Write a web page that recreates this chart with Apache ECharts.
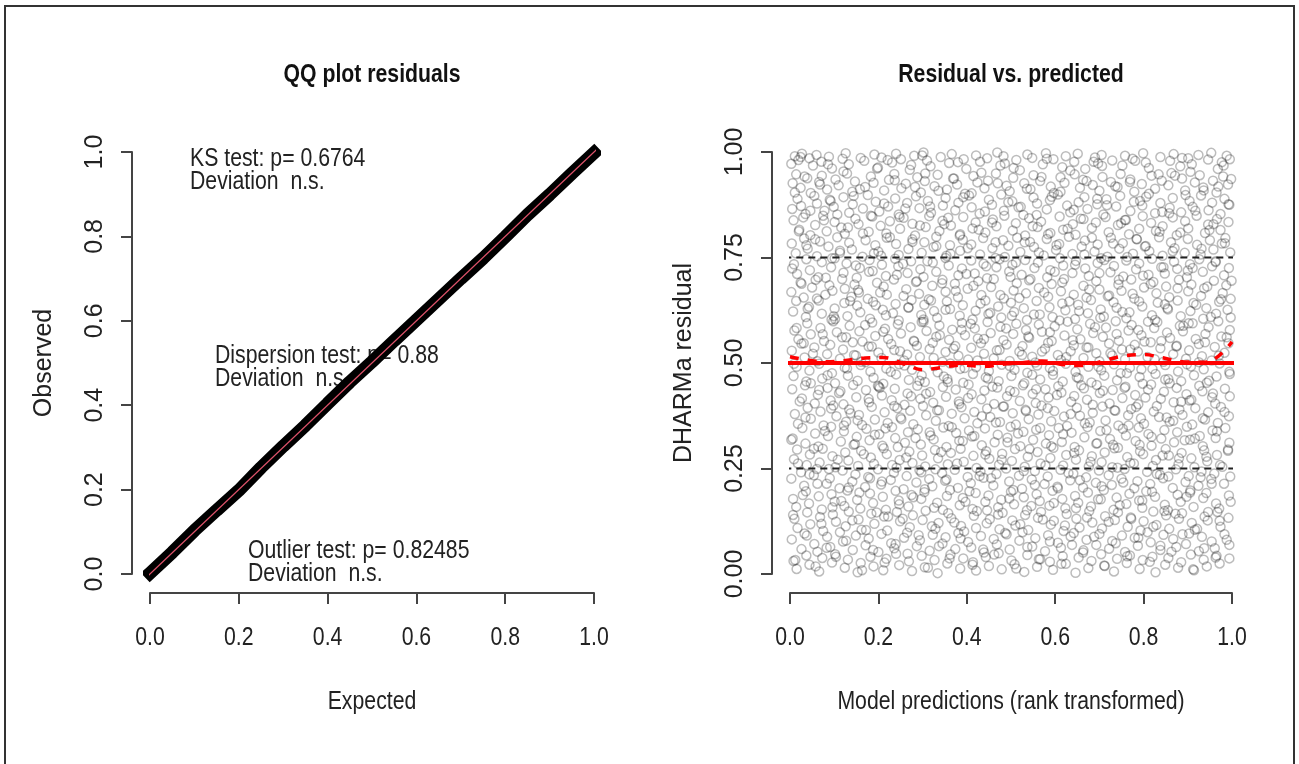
<!DOCTYPE html>
<html>
<head>
<meta charset="utf-8">
<title>DHARMa residual diagnostics</title>
<script src="https://cdn.jsdelivr.net/npm/echarts@6/dist/echarts.min.js"></script>
<style>
  html, body { margin: 0; padding: 0; background: #fff; }
  #chart { width: 1299px; height: 764px; }
</style>
</head>
<body>
<div id="chart"></div>
<script>
// ---- QQ plot: observed vs expected quantiles of the scaled residuals ----
const qqExpected = [0.00, 0.05, 0.10, 0.15, 0.20, 0.25, 0.30, 0.35, 0.40, 0.45, 0.50,
                    0.55, 0.60, 0.65, 0.70, 0.75, 0.80, 0.85, 0.90, 0.95, 1.00];
const qqObserved = [0.002, 0.051, 0.103, 0.151, 0.198, 0.252, 0.303, 0.352, 0.404, 0.455, 0.503,
                    0.553, 0.602, 0.651, 0.700, 0.748, 0.799, 0.851, 0.899, 0.949, 0.998];
// plotting range of both panels (axis extent plus R's 4% padding)
const plotRange = [-0.04, 1.04];

// ---- axis ticks and titles ----
const xTicks = [0, 0.2, 0.4, 0.6, 0.8, 1.0];
const panelTitles = ['QQ plot residuals', 'Residual vs. predicted'];
const xTitles = ['Expected', 'Model predictions (rank transformed)'];
const yTitles = ['Observed', 'DHARMa residual'];

// ---- test annotations ----
const ksText = ['KS test: p= 0.6764', 'Deviation  n.s.'];
const dispText = ['Dispersion test: p= 0.88', 'Deviation  n.s.'];
const outlierText = ['Outlier test: p= 0.82485', 'Deviation  n.s.'];

// ---- residual vs. predicted: rank-transformed prediction (x) and residual (y), in thousandths ----
const residPairs = [
  // 0.95 - 1.00
  3,972, 11,990, 19,981, 27,996, 44,985, 52,968, 60,993, 71,977, 88,989, 95,961, 119,984, 126,997, 133,971, 160,986, 168,979, 191,994, 199,963, 207,987, 231,975, 240,996, 251,983, 274,969, 281,991, 302,999, 310,980, 318,966, 341,988, 360,974, 366,995, 393,983, 399,960, 421,992, 430,977, 446,985, 469,999, 476,968, 483,990, 512,981, 520,957, 537,994, 548,986, 572,971, 579,997, 596,983, 616,964, 624,990, 643,977, 651,996, 668,960, 690,987, 697,973, 705,993, 729,980, 752,968, 758,991, 775,984, 799,997, 805,975, 812,962, 838,988, 860,979, 868,995, 883,966, 901,985, 909,971, 924,993, 946,982, 953,998, 968,960, 977,976, 988,991, 995,983,
  // 0.90 - 0.95
  6,926, 14,947, 24,915, 39,938, 47,903, 66,929, 72,944, 84,911, 103,935, 110,921, 129,949, 141,906, 147,930, 170,917, 183,942, 189,927, 213,909, 224,934, 236,948, 252,914, 262,925, 288,940, 296,904, 305,931, 327,919, 334,946, 355,911, 371,937, 378,923, 396,901, 415,943, 424,928, 440,914, 448,932, 466,949, 490,920, 497,907, 505,939, 530,926, 544,912, 551,945, 566,931, 590,918, 597,903, 612,940, 621,927, 644,947, 656,915, 663,934, 685,922, 700,908, 707,941, 726,929, 741,917, 748,948, 770,935, 779,906, 796,924, 818,944, 826,913, 841,932, 856,921, 863,950, 887,937, 894,909, 916,928, 927,945, 935,916, 957,932, 965,904, 980,942, 991,923, 998,936,
  // 0.85 - 0.90
  5,865, 17,889, 25,872, 35,853, 55,896, 61,878, 78,861, 92,884, 99,870, 121,893, 134,856, 142,876, 165,866, 176,898, 194,882, 202,859, 222,871, 238,890, 246,852, 265,879, 285,895, 293,867, 312,884, 319,856, 346,873, 352,891, 374,862, 381,880, 405,897, 411,869, 429,854, 450,887, 457,875, 478,899, 484,861, 503,883, 522,870, 528,851, 551,892, 559,878, 581,864, 588,886, 606,899, 627,873, 634,857, 653,881, 666,893, 673,865, 695,876, 709,852, 716,888, 738,871, 747,896, 770,860, 778,882, 797,873, 806,894, 826,855, 838,879, 859,868, 866,891, 885,857, 904,884, 911,870, 930,897, 947,862, 955,880, 974,853, 983,889, 994,875,
  // 0.80 - 0.85
  8,838, 21,816, 30,845, 46,803, 57,827, 75,849, 83,812, 101,834, 116,821, 124,806, 148,842, 155,829, 178,811, 186,847, 205,825, 218,807, 226,836, 249,818, 257,844, 277,830, 283,802, 307,822, 315,848, 338,813, 345,837, 364,826, 385,805, 392,846, 413,819, 420,833, 442,809, 459,840, 467,824, 485,849, 504,814, 511,831, 532,802, 541,843, 560,822, 568,835, 589,808, 610,847, 618,816, 640,829, 646,804, 664,841, 683,820, 692,833, 714,846, 721,810, 742,827, 760,839, 767,805, 790,818, 798,848, 817,832, 836,811, 843,824, 866,845, 875,803, 894,836, 901,819, 920,849, 939,808, 946,828, 966,841, 974,815, 992,834,
  // 0.75 - 0.80
  4,783, 13,760, 32,795, 40,771, 61,753, 68,788, 87,776, 107,798, 113,761, 134,785, 140,769, 164,752, 171,791, 193,779, 200,764, 219,797, 240,782, 246,756, 268,770, 277,793, 298,761, 304,786, 325,775, 331,799, 354,754, 362,779, 385,766, 391,792, 410,781, 430,757, 437,796, 458,772, 465,786, 486,751, 494,778, 514,797, 521,763, 543,787, 552,775, 574,755, 581,794, 602,768, 609,782, 631,799, 639,758, 660,776, 667,790, 689,764, 696,781, 718,752, 726,797, 745,771, 753,784, 776,759, 785,793, 805,777, 813,765, 835,798, 843,754, 862,786, 870,772, 893,761, 900,794, 921,780, 929,757, 950,791, 958,769, 977,783, 985,796, 996,762,
  // 0.70 - 0.75
  9,734, 16,711, 37,746, 45,720, 64,703, 72,739, 93,727, 101,748, 121,714, 128,736, 151,702, 158,725, 180,744, 187,718, 208,733, 217,706, 238,747, 245,729, 266,713, 274,741, 295,722, 302,704, 323,738, 331,716, 352,749, 359,731, 381,708, 389,724, 410,743, 418,712, 438,735, 446,701, 467,727, 474,746, 496,717, 503,733, 524,709, 532,744, 553,725, 561,738, 582,703, 589,720, 611,748, 618,731, 639,713, 647,742, 668,724, 676,706, 696,737, 704,748, 725,715, 733,730, 754,705, 761,743, 783,722, 790,736, 811,709, 819,747, 840,727, 848,712, 869,740, 876,723, 898,703, 905,734, 926,746, 934,716, 955,729, 963,741, 982,708, 993,725,
  // 0.65 - 0.70
  3,668, 24,691, 31,655, 50,679, 58,697, 80,662, 89,684, 96,671, 118,699, 139,657, 146,686, 154,673, 176,652, 197,690, 204,667, 212,681, 235,698, 257,659, 263,675, 285,692, 292,664, 314,651, 322,683, 345,697, 352,669, 373,688, 380,656, 402,676, 426,694, 433,661, 455,680, 461,699, 484,653, 506,672, 513,689, 534,665, 541,696, 563,678, 584,657, 592,687, 613,670, 620,699, 642,662, 664,683, 671,655, 693,694, 700,674, 722,660, 743,686, 750,671, 772,698, 779,653, 801,679, 822,692, 829,665, 851,681, 858,656, 880,697, 901,670, 908,686, 930,659, 937,677, 959,695, 979,666, 987,684, 997,652,
  // 0.60 - 0.65
  7,622, 14,647, 36,609, 43,633, 65,648, 72,617, 94,603, 101,629, 123,642, 130,611, 152,636, 159,620, 181,605, 188,645, 210,626, 217,613, 239,640, 246,601, 268,631, 275,649, 297,614, 304,638, 326,623, 333,607, 355,646, 362,628, 384,612, 391,637, 413,603, 420,624, 442,648, 449,616, 471,634, 478,608, 500,643, 507,621, 529,630, 536,602, 558,647, 565,615, 587,632, 594,609, 616,641, 623,625, 645,604, 652,638, 674,618, 681,649, 703,627, 710,610, 732,644, 739,631, 761,606, 768,620, 790,646, 797,634, 819,613, 826,602, 848,639, 855,627, 877,648, 884,611, 906,623, 913,642, 935,605, 942,630, 964,617, 971,645, 990,626, 997,608,
  // 0.55 - 0.60
  10,577, 19,556, 39,594, 47,568, 69,583, 77,552, 98,599, 106,573, 127,561, 135,588, 157,575, 164,551, 186,596, 193,564, 215,581, 222,557, 244,592, 251,570, 273,585, 280,553, 302,598, 309,576, 331,562, 338,589, 360,555, 367,579, 389,595, 396,566, 418,582, 425,558, 447,597, 454,571, 476,586, 483,554, 505,569, 512,593, 534,578, 541,560, 563,591, 570,574, 592,552, 599,587, 621,565, 628,598, 650,580, 657,556, 679,593, 686,571, 708,562, 715,584, 737,599, 744,553, 766,577, 773,590, 795,566, 802,551, 824,583, 831,597, 853,572, 860,559, 882,588, 889,575, 911,594, 918,557, 940,569, 947,585, 969,599, 976,563, 995,578,
  // 0.50 - 0.55
  4,529, 26,546, 33,513, 55,537, 62,504, 84,521, 91,543, 113,510, 120,532, 142,549, 149,518, 171,502, 178,539, 200,525, 207,512, 229,545, 236,531, 258,506, 265,520, 287,541, 294,514, 316,533, 323,548, 345,503, 352,526, 374,540, 381,517, 403,508, 410,536, 432,547, 439,522, 461,511, 468,530, 490,544, 497,505, 519,527, 526,540, 548,515, 555,501, 577,534, 584,548, 606,519, 613,507, 635,528, 642,542, 664,512, 671,537, 693,523, 700,504, 722,546, 729,518, 751,532, 758,509, 780,543, 787,527, 809,514, 816,549, 838,535, 845,503, 867,521, 874,539, 896,510, 903,530, 925,545, 932,516, 954,506, 961,538, 983,524, 992,547,
  // 0.45 - 0.50
  8,469, 15,491, 37,456, 44,482, 66,498, 73,463, 95,476, 102,452, 124,489, 131,470, 153,458, 160,495, 182,480, 189,465, 211,451, 218,487, 240,473, 247,497, 269,460, 276,484, 298,471, 305,455, 327,493, 334,478, 356,462, 363,499, 385,486, 392,453, 414,474, 421,490, 443,466, 450,481, 472,457, 479,496, 501,469, 508,484, 530,452, 537,477, 559,494, 566,461, 588,488, 595,472, 617,456, 624,498, 646,479, 653,464, 675,491, 682,454, 704,483, 711,470, 733,497, 740,459, 762,476, 769,489, 791,467, 798,451, 820,486, 827,474, 849,495, 856,462, 878,480, 885,457, 907,492, 914,471, 936,485, 943,453, 965,468, 972,499, 994,479,
  // 0.40 - 0.45
  5,438, 27,416, 34,447, 56,404, 63,425, 85,441, 92,411, 114,433, 121,402, 143,448, 150,419, 172,436, 179,407, 201,444, 208,423, 230,412, 237,439, 259,401, 266,428, 288,446, 295,415, 317,431, 324,406, 346,443, 353,420, 375,437, 382,409, 404,449, 411,426, 433,414, 440,435, 462,403, 469,442, 491,421, 498,434, 520,410, 527,447, 549,427, 556,405, 578,438, 585,418, 607,445, 614,430, 636,408, 643,422, 665,440, 672,413, 694,448, 701,429, 723,404, 730,436, 752,417, 759,444, 781,424, 788,402, 810,437, 817,449, 839,415, 846,432, 868,407, 875,441, 897,426, 904,411, 926,446, 933,433, 955,419, 962,404, 984,439, 995,421,
  // 0.35 - 0.40
  11,379, 18,356, 40,394, 47,368, 69,385, 76,352, 98,399, 105,374, 127,361, 134,390, 156,377, 163,353, 185,396, 192,366, 214,383, 221,358, 243,393, 250,371, 272,387, 279,355, 301,398, 308,376, 330,363, 337,388, 359,351, 366,380, 388,395, 395,369, 417,384, 424,357, 446,392, 453,372, 475,360, 482,397, 504,381, 511,354, 533,389, 540,367, 562,378, 569,399, 591,362, 598,386, 620,373, 627,351, 649,394, 656,375, 678,359, 685,382, 707,397, 714,364, 736,387, 743,352, 765,376, 772,391, 794,369, 801,356, 823,385, 830,398, 852,371, 859,361, 881,390, 888,377, 910,354, 917,393, 939,366, 946,383, 968,358, 975,396, 993,374,
  // 0.30 - 0.35
  6,321, 28,346, 35,309, 57,333, 64,302, 86,327, 93,349, 115,314, 122,338, 144,306, 151,325, 173,344, 180,317, 202,331, 209,304, 231,348, 238,322, 260,311, 267,336, 289,343, 296,307, 318,328, 325,319, 347,347, 354,301, 376,334, 383,316, 405,340, 412,326, 434,305, 441,345, 463,312, 470,330, 492,323, 499,349, 521,303, 528,337, 550,318, 557,342, 579,309, 586,329, 608,346, 615,313, 637,335, 644,301, 666,324, 673,348, 695,310, 702,339, 724,320, 731,306, 753,344, 760,328, 782,315, 789,347, 811,332, 818,304, 840,321, 847,341, 869,312, 876,336, 898,349, 905,318, 927,327, 934,303, 956,340, 963,322, 985,346, 994,311,
  // 0.25 - 0.30
  9,272, 16,295, 38,258, 45,283, 67,264, 74,297, 96,279, 103,253, 125,288, 132,269, 154,256, 161,292, 183,276, 190,261, 212,298, 219,284, 241,252, 248,270, 270,290, 277,263, 299,281, 306,255, 328,294, 335,274, 357,260, 364,287, 386,297, 393,266, 415,280, 422,251, 444,291, 451,273, 473,259, 480,285, 502,268, 509,296, 531,254, 538,278, 560,289, 567,262, 589,275, 596,299, 618,257, 625,282, 647,271, 654,293, 676,255, 683,279, 705,265, 712,288, 734,298, 741,252, 763,277, 770,263, 792,291, 799,284, 821,256, 828,270, 850,296, 857,281, 879,260, 886,287, 908,274, 915,253, 937,293, 944,267, 966,282, 973,258, 991,295,
  // 0.20 - 0.25
  3,226, 25,241, 32,209, 54,234, 61,249, 83,214, 90,227, 112,203, 119,245, 141,219, 148,236, 170,206, 177,230, 199,248, 206,212, 228,223, 235,240, 257,201, 264,232, 286,217, 293,246, 315,225, 322,208, 344,239, 351,221, 373,247, 380,204, 402,230, 409,215, 431,243, 438,228, 460,210, 467,237, 489,250, 496,219, 518,233, 525,202, 547,224, 554,244, 576,213, 583,231, 605,207, 612,247, 634,222, 641,238, 663,205, 670,229, 692,216, 699,245, 721,234, 728,211, 750,226, 757,249, 779,203, 786,220, 808,242, 815,213, 837,235, 844,227, 866,204, 873,248, 895,218, 902,232, 924,209, 931,243, 953,225, 960,238, 982,214, 996,231,
  // 0.15 - 0.20
  7,178, 14,159, 36,196, 43,167, 65,184, 72,153, 94,189, 101,172, 123,161, 130,198, 152,176, 159,155, 181,191, 188,168, 210,183, 217,152, 239,197, 246,174, 268,160, 275,187, 297,178, 304,194, 326,157, 333,169, 355,185, 362,199, 384,163, 391,180, 413,154, 420,192, 442,171, 449,186, 471,158, 478,176, 500,195, 507,165, 529,182, 536,151, 558,189, 565,173, 587,162, 594,197, 616,178, 623,156, 645,185, 652,169, 674,193, 681,160, 703,177, 710,199, 732,152, 739,181, 761,166, 768,190, 790,174, 797,157, 819,195, 826,183, 848,164, 855,151, 877,188, 884,171, 906,198, 913,159, 935,180, 942,192, 964,167, 971,155, 993,186,
  // 0.10 - 0.15
  10,131, 17,109, 39,146, 46,118, 68,135, 75,102, 97,141, 104,124, 126,113, 133,148, 155,129, 162,105, 184,143, 191,119, 213,136, 220,103, 242,147, 249,125, 271,111, 278,139, 300,128, 307,150, 329,107, 336,121, 358,144, 365,132, 387,114, 394,101, 416,138, 423,149, 445,120, 452,130, 474,106, 481,145, 503,127, 510,115, 532,140, 539,104, 561,133, 568,147, 590,117, 597,126, 619,102, 626,142, 648,131, 655,110, 677,149, 684,122, 706,108, 713,137, 735,128, 742,146, 764,112, 771,134, 793,103, 800,125, 822,148, 829,116, 851,139, 858,107, 880,131, 887,144, 909,121, 916,105, 938,136, 945,127, 967,147, 974,112, 992,133,
  // 0.05 - 0.10
  4,82, 26,59, 33,96, 55,71, 62,53, 84,88, 91,64, 113,99, 120,77, 142,57, 149,91, 171,68, 178,84, 200,52, 207,95, 229,73, 236,61, 258,86, 265,98, 287,66, 294,80, 316,55, 323,93, 345,72, 352,87, 374,59, 381,97, 403,76, 410,63, 432,90, 439,51, 461,83, 468,70, 490,94, 497,58, 519,79, 526,99, 548,65, 555,85, 577,54, 584,92, 606,74, 613,62, 635,89, 642,97, 664,56, 671,81, 693,69, 700,95, 722,60, 729,78, 751,91, 758,52, 780,86, 787,67, 809,99, 816,75, 838,57, 845,93, 867,83, 874,64, 896,71, 903,96, 925,54, 932,88, 954,77, 961,61, 983,94, 994,69,
  // 0.00 - 0.05
  8,31, 15,12, 37,44, 44,22, 66,6, 73,38, 95,27, 102,47, 124,15, 131,34, 153,4, 160,26, 182,41, 189,18, 211,9, 218,36, 240,48, 247,21, 269,30, 276,7, 298,43, 305,16, 327,33, 334,2, 356,25, 363,46, 385,13, 392,37, 414,28, 421,8, 443,40, 450,19, 472,49, 479,11, 501,32, 508,23, 530,5, 537,45, 559,17, 566,35, 588,29, 595,10, 617,42, 624,24, 646,3, 653,39, 675,14, 682,31, 704,47, 711,20, 733,6, 740,36, 762,26, 769,44, 791,12, 798,33, 820,41, 827,4, 849,22, 856,38, 878,15, 885,28, 907,46, 914,9, 936,34, 943,18, 965,43, 972,25, 994,37,
  // further residuals, listed by prediction rank (x bands of 0.05)
  12,33, 38,91, 7,140, 29,187, 44,236, 18,262, 3,318, 35,371, 22,409, 47,452, 9,498, 31,547, 15,583, 40,629, 26,688, 5,724, 37,779, 20,812, 46,861, 11,904, 33,942, 24,988,
  58,18, 83,62, 71,119, 96,158, 62,214, 88,249, 54,297, 79,339, 93,392, 66,436, 85,471, 52,522, 74,568, 99,611, 61,653, 81,702, 95,748, 57,793, 77,838, 90,887, 68,923, 86,971,
  104,41, 127,79, 141,127, 116,173, 133,205, 108,271, 147,308, 122,352, 137,381, 111,429, 129,487, 145,519, 118,561, 102,604, 136,647, 124,676, 149,731, 113,766, 131,821, 107,852, 144,896, 121,954,
  163,9, 188,57, 172,104, 196,146, 157,193, 181,227, 167,284, 192,330, 153,364, 178,415, 199,446, 161,503, 185,539, 170,590, 194,637, 156,667, 179,716, 190,760, 165,807, 183,849, 158,912, 197,961,
  214,27, 239,71, 222,136, 247,165, 208,219, 231,258, 244,301, 216,345, 236,398, 203,441, 228,479, 249,528, 211,574, 233,618, 219,662, 242,709, 206,754, 226,798, 248,846, 213,878, 237,933, 221,981,
  266,48, 291,92, 255,131, 279,182, 297,241, 263,276, 284,322, 252,367, 274,421, 293,458, 259,494, 281,551, 298,597, 268,632, 287,694, 256,735, 277,787, 294,826, 261,866, 283,917, 271,958, 299,992,
  312,15, 337,66, 321,113, 346,152, 305,201, 329,248, 342,289, 316,336, 333,388, 308,427, 348,468, 325,512, 339,566, 302,603, 319,648, 344,689, 311,741, 331,777, 349,829, 317,871, 336,908, 306,949,
  361,37, 386,84, 372,122, 397,171, 354,224, 378,262, 391,315, 366,348, 383,403, 357,455, 395,488, 370,534, 388,579, 352,626, 375,671, 399,711, 363,759, 384,802, 358,844, 392,893, 369,937, 380,976,
  413,22, 437,58, 421,109, 446,151, 406,196, 429,232, 442,283, 417,327, 434,374, 403,417, 448,463, 424,506, 439,557, 409,593, 431,641, 415,683, 444,729, 402,772, 427,816, 441,859, 411,902, 433,951,
  462,46, 487,97, 471,141, 496,179, 455,227, 479,271, 492,312, 466,359, 484,397, 458,444, 497,493, 474,531, 489,582, 453,619, 476,661, 499,704, 465,749, 482,791, 457,833, 494,881, 470,926, 486,973,
  512,13, 537,64, 521,118, 546,161, 505,199, 529,244, 542,296, 516,333, 534,386, 508,431, 548,472, 525,519, 539,563, 502,612, 519,654, 544,699, 511,738, 531,786, 549,824, 517,869, 536,913, 506,962,
  563,35, 588,77, 572,129, 597,168, 554,211, 578,257, 591,303, 566,346, 583,393, 557,438, 595,481, 570,527, 588,573, 552,615, 575,667, 599,716, 563,762, 584,805, 558,851, 592,894, 569,941, 581,984,
  614,24, 638,69, 622,115, 647,156, 606,203, 630,239, 643,287, 618,331, 635,379, 604,424, 649,466, 625,514, 640,554, 610,601, 632,646, 616,691, 645,733, 603,779, 628,818, 642,863, 612,906, 634,956,
  663,51, 688,88, 672,134, 697,177, 656,222, 680,266, 693,309, 667,357, 685,401, 659,447, 698,491, 675,537, 690,585, 654,623, 677,674, 700,713, 666,757, 683,797, 658,842, 695,889, 671,931, 687,977,
  712,19, 737,73, 721,124, 746,163, 705,208, 729,253, 742,299, 716,341, 734,388, 708,434, 748,476, 725,523, 739,569, 702,607, 719,658, 744,697, 711,744, 731,783, 749,831, 717,874, 736,919, 706,967,
  763,42, 788,86, 772,131, 797,174, 754,217, 778,262, 791,306, 766,352, 783,396, 757,441, 795,485, 770,532, 788,578, 752,621, 775,664, 799,707, 763,751, 784,794, 758,839, 792,884, 769,929, 781,979,
  814,29, 838,67, 822,112, 847,149, 806,196, 830,237, 843,281, 818,325, 835,372, 804,418, 849,461, 825,509, 840,552, 810,598, 832,643, 816,687, 845,727, 803,776, 828,813, 842,858, 812,901, 834,947,
  863,53, 888,94, 872,143, 897,183, 856,231, 880,274, 893,317, 867,363, 885,408, 859,452, 898,497, 875,541, 890,588, 854,630, 877,677, 900,719, 866,765, 883,809, 858,855, 895,898, 871,944, 887,986,
  912,11, 937,61, 921,107, 946,147, 905,193, 929,229, 942,278, 916,321, 934,369, 908,413, 948,458, 925,502, 939,549, 902,594, 919,638, 944,681, 911,725, 931,771, 949,815, 917,861, 936,909, 906,953,
  963,39, 988,81, 972,126, 997,171, 954,214, 978,254, 991,292, 966,338, 983,384, 957,428, 995,474, 970,517, 988,561, 952,609, 975,651, 999,695, 963,739, 984,784, 958,829, 992,876, 969,918, 981,968
];

// quantile regression (median) fitted through the residuals
const medianX = [0.00, 0.04, 0.08, 0.12, 0.17, 0.21, 0.26, 0.30, 0.34, 0.39, 0.44, 0.48,
                 0.52, 0.57, 0.62, 0.66, 0.71, 0.75, 0.80, 0.84, 0.89, 0.94, 0.97, 1.00];
const medianY = [0.515, 0.507, 0.503, 0.505, 0.512, 0.513, 0.497, 0.484, 0.489, 0.495, 0.492, 0.497,
                 0.500, 0.505, 0.496, 0.494, 0.505, 0.516, 0.520, 0.513, 0.503, 0.502, 0.517, 0.550];
const quantileLevels = [0.25, 0.75];
const medianLevel = 0.5;

const FONT = "'Liberation Sans', Arial, sans-serif";
const INK = '#222';
const AXIS = '#444';
const NARROW = 0.85;   // condensed look of the horizontal text

const qqData = qqExpected.map((e, i) => [e, qqObserved[i]]);
const identityData = [[plotRange[0], plotRange[0]], [plotRange[1], plotRange[1]]];
const residData = [];
for (let i = 0; i < residPairs.length; i += 2) {
  residData.push([residPairs[i] / 1000, residPairs[i + 1] / 1000]);
}
const medianData = medianX.map((x, i) => [x, medianY[i]]);

function xAxisCfg(gridIndex) {
  return {
    type: 'value', gridIndex, min: 0, max: 1, interval: 0.2, offset: 19,
    axisLine: { show: true, onZero: false, lineStyle: { color: AXIS, width: 2 } },
    axisTick: { show: true, length: 11, lineStyle: { color: AXIS, width: 2 } },
    axisLabel: { show: false },
    splitLine: { show: false }
  };
}
function yAxisCfg(gridIndex, name, interval, digits) {
  return {
    type: 'value', gridIndex, min: 0, max: 1, interval, offset: 18,
    axisLine: { show: true, onZero: false, lineStyle: { color: AXIS, width: 2 } },
    axisTick: { show: true, length: 11, lineStyle: { color: AXIS, width: 2 } },
    axisLabel: { fontFamily: FONT, fontSize: 25, color: INK, margin: 24, rotate: 90, hideOverlap: false,
                 formatter: v => v.toFixed(digits) },
    splitLine: { show: false },
    name, nameLocation: 'middle', nameGap: 75,
    nameTextStyle: { fontFamily: FONT, fontSize: 25, color: INK }
  };
}

// horizontal reference line across the whole residual panel
function levelLine(level, style, z) {
  return {
    type: 'line', xAxisIndex: 1, yAxisIndex: 1, symbol: 'none', clip: false, silent: true, z,
    data: [[plotRange[0], level], [plotRange[1], level]],
    lineStyle: style
  };
}

function label(text, x, y, opts) {
  return {
    type: 'text', x, y, z: 1, scaleX: NARROW, silent: true,
    style: Object.assign({ text, font: `25px ${FONT}`, fill: INK, align: 'left', verticalAlign: 'middle' }, opts || {})
  };
}
function textLines(lines, x, y) {
  return lines.map((t, i) => label(t, x, y + i * 23));
}

const chart = echarts.init(document.getElementById('chart'), null, { renderer: 'canvas' });
chart.setOption({
  animation: false,
  backgroundColor: '#fff',
  grid: [
    { left: 150, top: 152, width: 444, height: 422 },
    { left: 790, top: 152, width: 442, height: 422 }
  ],
  xAxis: [xAxisCfg(0), xAxisCfg(1)],
  yAxis: [yAxisCfg(0, yTitles[0], 0.2, 1), yAxisCfg(1, yTitles[1], 0.25, 2)],
  series: [
    {
      name: 'qq', type: 'line', xAxisIndex: 0, yAxisIndex: 0, data: qqData,
      symbol: 'none', clip: false, z: 3,
      lineStyle: { color: '#000', width: 13, cap: 'square' }
    },
    {
      name: 'identity', type: 'line', xAxisIndex: 0, yAxisIndex: 0, data: identityData,
      symbol: 'none', clip: false, z: 4,
      lineStyle: { color: '#DF536B', width: 1.3 }
    },
    {
      name: 'residuals', type: 'scatter', xAxisIndex: 1, yAxisIndex: 1, data: residData,
      symbol: 'circle', symbolSize: 9, clip: false, z: 3, silent: true,
      itemStyle: { color: 'rgba(0,0,0,0)', borderColor: 'rgba(0,0,0,0.33)', borderWidth: 1.5 }
    },
    ...quantileLevels.map(q => levelLine(q, { color: '#222', width: 2, type: [7, 5] }, 4)),
    levelLine(medianLevel, { color: '#ff0000', width: 4 }, 5),
    {
      name: 'median', type: 'line', xAxisIndex: 1, yAxisIndex: 1, data: medianData,
      symbol: 'none', smooth: 0.4, clip: false, z: 6,
      lineStyle: { color: '#ff0000', width: 3.5, type: [9, 9] }
    }
  ]
});

// Horizontal text (panel titles, x tick labels, x titles, test results) drawn
// as condensed graphic text, positioned from the axes' own scales.
const graphics = [
  { type: 'rect', z: 0, silent: true, shape: { x: 5, y: 6, width: 1289, height: 800 },
    style: { fill: 'none', stroke: '#333', lineWidth: 2 } }
];
[0, 1].forEach(i => {
  const left = chart.convertToPixel({ xAxisIndex: i }, 0);
  const right = chart.convertToPixel({ xAxisIndex: i }, 1);
  const mid = (left + right) / 2;
  const yBase = chart.convertToPixel({ yAxisIndex: i }, 0);
  graphics.push(label(panelTitles[i], mid, 75,
    { font: `bold 25px ${FONT}`, fill: '#111', align: 'center' }));
  xTicks.forEach(t => {
    graphics.push(label(t.toFixed(1), chart.convertToPixel({ xAxisIndex: i }, t), yBase + 64,
      { align: 'center' }));
  });
  graphics.push(label(xTitles[i], mid, yBase + 128, { align: 'center' }));
});
graphics.push(...textLines(ksText, 190, 159));
graphics.push(...textLines(dispText, 215, 356));
graphics.push(...textLines(outlierText, 248, 551));
chart.setOption({ graphic: graphics });
</script>
</body>
</html>
